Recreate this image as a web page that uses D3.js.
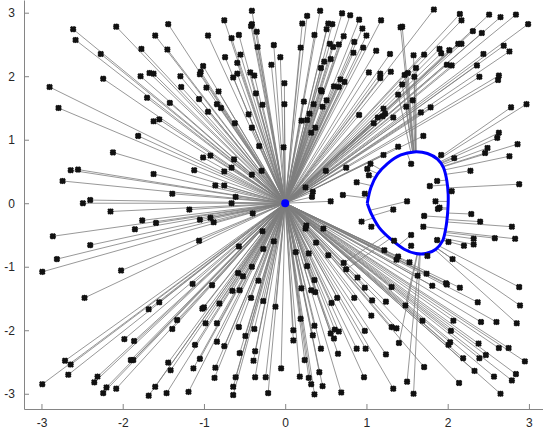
<!DOCTYPE html>
<html>
<head>
<meta charset="utf-8">
<script src="https://cdn.jsdelivr.net/npm/d3@7"></script>
<style>
  body { margin: 0; background: #fff; }
  text { font-family: 'Liberation Sans', Arial, sans-serif; }
</style>
</head>
<body>
<svg id="chart" width="543" height="434"></svg>
<script>
const xTicks = [-3, -2, -1, 0, 1, 2, 3];
const yTicks = [-3, -2, -1, 0, 1, 2, 3];
const center = [0, 0];

// blue closed curve, read as two arcs between the corners (1,0) and (2,0)
const curveTop = [[1.01, 0.0], [1.055, 0.247], [1.136, 0.457], [1.259, 0.625], [1.424, 0.761], [1.588, 0.808],
  [1.751, 0.783], [1.874, 0.693], [1.948, 0.562], [1.99, 0.351], [2.006, 0.142], [2.006, 0.0]];
const curveBottom = [[2.006, 0.0], [1.998, -0.173], [1.978, -0.383], [1.936, -0.594], [1.855, -0.724], [1.732, -0.792],
  [1.609, -0.792], [1.465, -0.724], [1.301, -0.567], [1.157, -0.383], [1.062, -0.173], [1.01, 0.0]];

// sample points
const points = [
  [-2.61, 2.74], [-2.08, 2.78], [-1.44, 2.82], [-1.60, 2.64], [-2.58, 2.57], [-1.77, 2.43], [-1.45, 2.42], [-2.27, 2.35],
  [-1.67, 2.05], [-1.62, 2.04], [-1.78, 2.00], [-2.24, 1.96], [-1.29, 2.00], [-1.28, 1.83], [-2.90, 1.83], [-1.70, 1.66],
  [-1.42, 1.58], [-2.79, 1.50], [-1.55, 1.32], [-1.62, 1.29], [-1.81, 1.06],
  [-0.41, 3.03], [-0.75, 2.88], [-0.41, 2.82], [-0.42, 2.79], [-0.35, 2.70], [-0.95, 2.64], [-0.66, 2.60], [-0.57, 2.65],
  [-0.34, 2.46], [-0.14, 2.49], [-0.55, 2.34], [-0.74, 2.30], [-0.06, 2.30], [-0.59, 2.21], [-0.17, 2.18], [-1.01, 2.16],
  [-1.04, 2.07], [-1.05, 2.03], [-0.64, 1.98], [-0.59, 2.04], [-0.43, 2.06], [-0.38, 2.01], [-0.01, 1.89], [-0.97, 1.82],
  [-0.82, 1.76], [-0.36, 1.73], [-1.06, 1.64], [-0.84, 1.56], [-0.79, 1.50], [-0.28, 1.55], [-0.01, 1.56], [-0.95, 1.44],
  [-0.45, 1.40], [-0.62, 1.26], [-0.41, 1.19],
  [0.43, 3.03], [0.27, 2.95], [0.70, 2.99], [0.80, 2.96], [0.91, 2.89], [0.21, 2.83], [0.53, 2.83], [0.58, 2.82],
  [0.51, 2.74], [0.95, 2.75], [0.36, 2.65], [0.72, 2.63], [1.00, 2.64], [0.85, 2.54], [0.55, 2.51], [0.59, 2.46],
  [0.66, 2.50], [0.96, 2.45], [0.19, 2.45], [0.84, 2.37], [0.56, 2.27], [0.48, 2.23], [0.44, 2.13], [0.68, 1.95],
  [0.73, 1.91], [0.60, 1.84], [0.66, 1.83], [0.44, 1.78], [0.45, 1.76], [0.23, 1.60], [0.51, 1.62], [0.35, 1.56],
  [0.46, 1.52], [0.91, 1.39], [0.30, 1.41], [0.20, 1.30], [0.27, 1.31], [0.37, 1.19], [0.32, 1.11],
  [1.83, 3.05], [1.18, 2.88], [2.15, 2.98], [2.17, 2.88], [2.51, 2.97], [2.65, 2.93], [2.84, 2.97], [2.99, 2.82],
  [1.44, 2.78], [1.42, 2.77], [2.31, 2.71], [2.42, 2.68], [2.13, 2.51], [2.17, 2.51], [1.90, 2.43], [1.92, 2.36],
  [2.02, 2.41], [2.69, 2.48], [2.76, 2.39], [1.12, 2.40], [1.29, 2.35], [1.58, 2.33], [1.71, 2.34], [2.44, 2.35],
  [1.99, 2.18], [2.05, 2.17], [2.36, 2.17], [1.61, 2.13], [1.03, 2.06], [1.17, 2.04], [1.17, 1.97], [1.30, 2.07],
  [1.47, 2.02], [1.51, 2.05], [1.59, 1.99], [2.39, 1.99], [2.63, 2.01], [2.62, 1.94], [1.44, 1.87], [1.39, 1.71],
  [1.57, 1.62], [1.49, 1.52], [1.79, 1.51], [1.21, 1.49], [1.23, 1.41], [2.78, 1.51], [2.97, 1.56], [1.67, 1.43],
  [1.14, 1.35], [1.20, 1.37], [1.33, 1.35], [1.09, 1.26], [2.63, 1.11], [1.70, 1.06],
  [-2.12, 0.80], [-2.64, 0.52], [-2.55, 0.53], [-1.62, 0.46], [-1.12, 0.52], [-2.74, 0.35], [-1.39, 0.15], [-2.49, 0.00],
  [-2.40, 0.05], [-1.18, -0.10], [-2.15, -0.13], [-1.76, -0.27], [-1.59, -0.31], [-1.85, -0.41], [-2.86, -0.52],
  [-2.40, -0.66], [-2.81, -0.88], [-2.02, -1.06], [-2.99, -1.08],
  [-0.32, 0.90], [-0.02, 0.88], [-1.01, 0.72], [-0.92, 0.75], [-0.63, 0.69], [-0.66, 0.56], [-0.75, 0.50], [-0.41, 0.45],
  [-0.29, 0.51], [0.50, 0.51], [0.75, 0.56], [-0.86, 0.28], [-0.75, 0.28], [-0.61, 0.10], [-0.66, 0.00], [0.25, 0.25],
  [0.34, 0.18], [0.33, 0.10], [0.56, 0.03], [0.71, 0.13], [0.88, 0.33], [-0.40, -0.16], [-1.05, -0.26], [-0.92, -0.23],
  [-0.88, -0.30], [0.94, -0.29], [-1.06, -0.59], [-0.57, -0.68], [-0.28, -0.44], [-0.14, -0.60], [-0.27, -0.72],
  [0.25, -0.40], [0.26, -0.35], [0.47, -0.40], [0.38, -0.62], [0.29, -0.79], [0.53, -0.82], [0.13, -0.77], [-0.41, -1.00],
  [0.27, -0.99], [0.72, -0.94], [0.75, -1.04],
  [1.39, 0.89], [1.21, 0.76], [1.05, 0.62], [1.01, 0.54], [1.03, 0.44], [1.55, 0.62], [1.92, 0.76], [2.08, 0.71],
  [2.86, 0.93], [2.76, 0.74], [2.61, 1.03], [2.49, 0.87], [2.46, 0.79], [2.28, 0.51], [2.88, 0.30], [1.78, 0.27],
  [1.87, 0.35], [2.05, 0.19], [0.98, 0.15], [1.50, 0.03], [1.33, -0.10], [1.85, 0.03], [1.88, -0.09], [1.90, -0.07],
  [1.71, -0.20], [2.29, -0.17], [2.40, -0.29], [2.79, -0.37], [1.70, -0.37], [1.06, -0.37], [1.55, -0.50], [2.58, -0.55],
  [2.83, -0.56], [1.87, -0.58], [2.01, -0.61], [2.32, -0.56], [2.32, -0.65], [2.20, -0.67], [1.34, -0.59], [1.55, -0.67],
  [1.22, -0.74], [1.39, -0.84], [1.37, -0.89], [1.53, -0.93], [1.75, -0.83], [2.06, -0.88],
  [-2.47, -1.49], [-1.14, -1.27], [-1.68, -1.67], [-1.55, -1.56], [-1.33, -1.84], [-1.39, -1.98], [-1.98, -2.14],
  [-1.86, -2.17], [-1.11, -2.23], [-2.71, -2.48], [-2.64, -2.54], [-1.90, -2.47], [-1.87, -2.47], [-1.44, -2.51],
  [-1.41, -2.63], [-1.13, -2.60], [-2.67, -2.70], [-2.99, -2.85], [-2.31, -2.73], [-2.35, -2.82], [-2.20, -2.90],
  [-2.24, -2.99], [-2.08, -2.92], [-1.60, -2.89], [-1.68, -3.03], [-1.46, -2.99], [-1.19, -2.97],
  [-0.58, -1.10], [-0.52, -1.15], [-0.90, -1.29], [-0.33, -1.22], [-0.65, -1.38], [-0.56, -1.37], [-0.42, -1.49],
  [-0.27, -1.54], [-0.81, -1.58], [-0.12, -1.63], [-1.02, -1.66], [-1.00, -1.64], [-0.98, -1.89], [-0.84, -1.89],
  [-0.57, -1.95], [-0.38, -1.98], [-0.49, -2.09], [-0.84, -2.18], [-0.75, -2.25], [-0.37, -2.33], [-0.56, -2.36],
  [-1.05, -2.45], [-0.39, -2.48], [-0.86, -2.59], [-0.05, -2.60], [-0.87, -2.75], [-0.61, -2.74], [-0.37, -2.74],
  [-0.24, -2.74], [-0.64, -2.89], [-0.64, -3.02], [-0.21, -2.99],
  [0.36, -1.21], [0.20, -1.34], [0.32, -1.37], [0.37, -1.40], [0.89, -1.17], [0.98, -1.33], [0.64, -1.49], [0.57, -1.57],
  [0.85, -1.49], [0.19, -1.82], [0.36, -1.93], [0.10, -2.00], [0.56, -2.05], [0.61, -1.99], [0.66, -2.02], [0.34, -2.08],
  [0.60, -2.13], [0.10, -2.16], [0.98, -2.01], [0.44, -2.29], [0.88, -2.29], [0.99, -2.29], [0.65, -2.37], [0.24, -2.47],
  [0.42, -2.66], [0.18, -2.73], [0.29, -2.75], [0.32, -2.85], [0.46, -2.88], [0.36, -3.01], [0.69, -2.98], [0.97, -2.74],
  [1.63, -1.14], [1.74, -1.11], [1.81, -1.30], [1.98, -1.26], [1.99, -1.28], [2.15, -1.33], [2.88, -1.32], [2.89, -1.61],
  [1.31, -1.32], [1.07, -1.53], [1.24, -1.55], [1.48, -1.61], [2.37, -1.56], [1.06, -1.77], [1.69, -1.85], [2.07, -1.85],
  [2.41, -1.87], [2.60, -1.87], [2.85, -1.89], [1.31, -1.95], [1.37, -1.97], [2.04, -2.01], [1.40, -2.20], [2.03, -2.19],
  [2.01, -2.23], [2.38, -2.21], [2.63, -2.28], [2.75, -2.28], [1.24, -2.38], [2.19, -2.44], [2.39, -2.44], [2.47, -2.39],
  [2.95, -2.49], [1.71, -2.58], [2.33, -2.64], [2.57, -2.73], [2.84, -2.69], [2.79, -2.79], [1.50, -2.81], [2.14, -2.83],
  [1.33, -2.92], [1.58, -3.00], [2.65, -3.00]
];

// which samples link to the curve: those inside the wedge (degrees) seen from the centre,
// those in the vertical strip above/below it, plus a few read one by one
const wedge = [-27, 31];
const strip = [1.37, 1.63];
const extraCurve = [[0.72, -0.94], [0.75, -1.04], [2.89, -1.61], [2.85, -1.89]];
const extraCenter = [[0.56, 0.03]];

const svg = d3.select('#chart');
const x = d3.scaleLinear().domain([-3.215, 3.215]).range([24, 546.4]);
const y = d3.scaleLinear().domain([-3.24, 3.2]).range([409, 0]);

const line = d3.line()
  .x(d => x(d[0]))
  .y(d => y(d[1]))
  .curve(d3.curveCatmullRom.alpha(0.5));

const linksG = svg.append('g').attr('class', 'links');

const curvePath = svg.append('path')
  .attr('d', line(curveTop) + line(curveBottom).replace(/^M/, 'L'))
  .attr('fill', 'none')
  .attr('stroke', '#0000ff')
  .attr('stroke-width', 3)
  .attr('stroke-linejoin', 'round');

// sample the drawn curve back into data space
const node = curvePath.node();
const total = node.getTotalLength();
const samples = d3.range(0, 1201).map(i => {
  const p = node.getPointAtLength(total * i / 1200);
  return [x.invert(p.x), y.invert(p.y)];
});

const same = (a, b) => a[0] === b[0] && a[1] === b[1];

function target(p) {
  let best = null;
  let bestD = Infinity;
  samples.forEach(s => {
    const d = (p[0] - s[0]) ** 2 + (p[1] - s[1]) ** 2;
    if (d < bestD) { bestD = d; best = s; }
  });
  if (extraCenter.some(e => same(e, p))) return center;
  if (extraCurve.some(e => same(e, p))) return best;
  const d0 = (p[0] - center[0]) ** 2 + (p[1] - center[1]) ** 2;
  const ang = Math.atan2(p[1], p[0]) * 180 / Math.PI;
  const inStrip = p[0] > strip[0] && p[0] < strip[1] && Math.abs(p[1]) > 1;
  return ((ang > wedge[0] && ang < wedge[1] && bestD < d0) || inStrip) ? best : center;
}

linksG.selectAll('line')
  .data(points)
  .enter()
  .append('line')
  .each(function (d) {
    const t = target(d);
    d3.select(this)
      .attr('x1', x(d[0]))
      .attr('y1', y(d[1]))
      .attr('x2', x(t[0]))
      .attr('y2', y(t[1]));
  })
  .attr('stroke', '#7d7d7d')
  .attr('stroke-width', 0.8);

// axes
const fmt = d => String(d);
const xAxis = svg.append('g')
  .attr('transform', 'translate(0,409)')
  .call(d3.axisBottom(x).tickValues(xTicks).tickFormat(fmt).tickSizeInner(-5).tickSizeOuter(0).tickPadding(9));
const yAxis = svg.append('g')
  .attr('transform', 'translate(24,0)')
  .call(d3.axisLeft(y).tickValues(yTicks).tickFormat(fmt).tickSizeInner(-5).tickSizeOuter(0).tickPadding(9));
[xAxis, yAxis].forEach(a => {
  a.selectAll('path, line').attr('stroke', '#858585');
  a.selectAll('text').attr('fill', '#262626').attr('font-size', 12)
    .attr('font-family', "'Liberation Sans', Arial, sans-serif");
});

// markers
const marker = svg.append('g').attr('class', 'markers')
  .selectAll('g')
  .data(points)
  .enter()
  .append('g')
  .attr('transform', d => `translate(${x(d[0])},${y(d[1])})`);
marker.append('path')
  .attr('d', d3.symbol(d3.symbolSquare, 22))
  .attr('transform', 'rotate(45)')
  .attr('fill', '#111');
marker.append('path')
  .attr('d', d3.symbol(d3.symbolCross, 26))
  .attr('transform', 'rotate(45)')
  .attr('fill', '#111');

svg.append('circle')
  .attr('cx', x(center[0]))
  .attr('cy', y(center[1]))
  .attr('r', 4)
  .attr('fill', '#0000ff');
</script>
</body>
</html>
